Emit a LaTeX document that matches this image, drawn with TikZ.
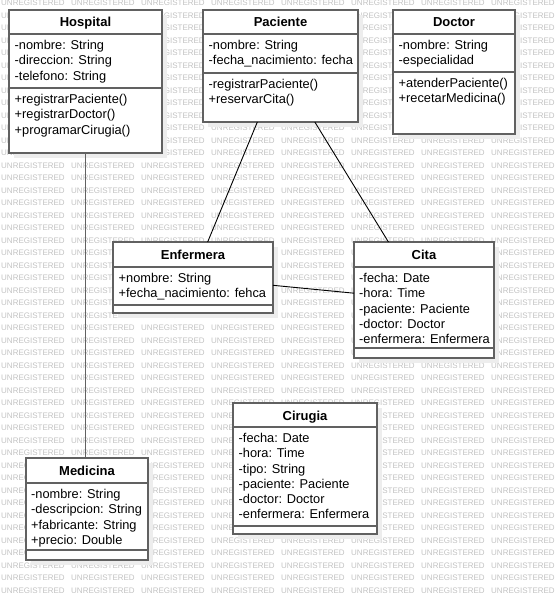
\documentclass[tikz,border=0pt]{standalone}
\usepackage{fontspec}
\setmainfont{Liberation Sans}
\usetikzlibrary{shadows}

\begin{document}
\begin{tikzpicture}[x=1pt,y=-1pt,
			watermark/.style={anchor=west,inner sep=0pt,text=black!24,font=\fontsize{8}{8}\selectfont},
			classbox/.style={draw=black!62,line width=1.4pt,fill=white,inner sep=0pt,outer sep=0pt,
				general shadow={fill=black!7,shadow xshift=5pt,shadow yshift=-5pt}},
			divider/.style={draw=black!62,line width=1.4pt},
			classtitle/.style={anchor=base,inner sep=0pt,font=\fontsize{13}{15.3}\selectfont\bfseries},
			members/.style={anchor=north west,inner sep=0pt,align=left,font=\fontsize{12.8}{15.3}\selectfont},
			assoc/.style={draw=black,line width=0.9pt},
			link/.style={draw=black!62,line width=1.4pt}]
			\useasboundingbox (0,0) rectangle (555,601);
			% background
			\begin{scope}
				\clip (0,0) rectangle (555,601);
				\foreach \r in {0,...,47}
				\foreach \c in {0,...,7}
				\node[watermark] (wm-\c-\r) at (1+70*\c,3+12.5*\r) {UNREGISTERED};
			\end{scope}
			% Hospital
			\node[classbox,minimum width=153pt,minimum height=143pt] (hospital) at (85.5,81.5) {};
			\draw[divider] ([yshift=-24pt]hospital.north west) -- ([yshift=-24pt]hospital.north east);
			\draw[divider] ([yshift=-78pt]hospital.north west) -- ([yshift=-78pt]hospital.north east);
			\node[classtitle] (hospital-title) at ([yshift=-17pt]hospital.north) {Hospital};
			\node[members] (hospital-attr) at ([shift={(5.5pt,-30pt)}]hospital.north west)
				{-nombre: String\\-direccion: String\\-telefono: String};
			\node[members] (hospital-ops) at ([shift={(5.5pt,-84pt)}]hospital.north west)
				{+registrarPaciente()\\+registrarDoctor()\\+programarCirugia()};
			% Paciente
			\node[classbox,minimum width=155pt,minimum height=112pt] (paciente) at (280.5,66) {};
			\draw[divider] ([yshift=-24pt]paciente.north west) -- ([yshift=-24pt]paciente.north east);
			\draw[divider] ([yshift=-63pt]paciente.north west) -- ([yshift=-63pt]paciente.north east);
			\node[classtitle] (paciente-title) at ([yshift=-17pt]paciente.north) {Paciente};
			\node[members] (paciente-attr) at ([shift={(5.5pt,-30pt)}]paciente.north west)
				{-nombre: String\\-fecha\_nacimiento: fecha};
			\node[members] (paciente-ops) at ([shift={(5.5pt,-69pt)}]paciente.north west)
				{-registrarPaciente()\\+reservarCita()};
			% Doctor
			\node[classbox,minimum width=122pt,minimum height=124pt] (doctor) at (454,72) {};
			\draw[divider] ([yshift=-24pt]doctor.north west) -- ([yshift=-24pt]doctor.north east);
			\draw[divider] ([yshift=-62pt]doctor.north west) -- ([yshift=-62pt]doctor.north east);
			\node[classtitle] (doctor-title) at ([yshift=-17pt]doctor.north) {Doctor};
			\node[members] (doctor-attr) at ([shift={(5.5pt,-30pt)}]doctor.north west)
				{-nombre: String\\-especialidad};
			\node[members] (doctor-ops) at ([shift={(5.5pt,-68pt)}]doctor.north west)
				{+atenderPaciente()\\+recetarMedicina()};
			% Enfermera
			\node[classbox,minimum width=160pt,minimum height=71pt] (enfermera) at (193,277.5) {};
			\draw[divider] ([yshift=-25pt]enfermera.north west) -- ([yshift=-25pt]enfermera.north east);
			\draw[divider] ([yshift=-63pt]enfermera.north west) -- ([yshift=-63pt]enfermera.north east);
			\node[classtitle] (enfermera-title) at ([yshift=-17pt]enfermera.north) {Enfermera};
			\node[members] (enfermera-attr) at ([shift={(5.5pt,-31pt)}]enfermera.north west)
				{+nombre: String\\+fecha\_nacimiento: fehca};
			% Cita
			\node[classbox,minimum width=140pt,minimum height=116pt] (cita) at (424,300) {};
			\draw[divider] ([yshift=-25pt]cita.north west) -- ([yshift=-25pt]cita.north east);
			\draw[divider] ([yshift=-106pt]cita.north west) -- ([yshift=-106pt]cita.north east);
			\node[classtitle] (cita-title) at ([yshift=-17pt]cita.north) {Cita};
			\node[members] (cita-attr) at ([shift={(5pt,-31pt)}]cita.north west)
				{-fecha: Date\\-hora: Time\\-paciente: Paciente\\-doctor: Doctor\\-enfermera: Enfermera};
			% Medicina
			\node[classbox,minimum width=122pt,minimum height=102pt] (medicina) at (87,509) {};
			\draw[divider] ([yshift=-25pt]medicina.north west) -- ([yshift=-25pt]medicina.north east);
			\draw[divider] ([yshift=-92pt]medicina.north west) -- ([yshift=-92pt]medicina.north east);
			\node[classtitle] (medicina-title) at ([yshift=-17pt]medicina.north) {Medicina};
			\node[members] (medicina-attr) at ([shift={(5pt,-31pt)}]medicina.north west)
				{-nombre: String\\-descripcion: String\\+fabricante: String\\+precio: Double};
			% Cirugia
			\node[classbox,minimum width=144pt,minimum height=131pt] (cirugia) at (305,468.5) {};
			\draw[divider] ([yshift=-24pt]cirugia.north west) -- ([yshift=-24pt]cirugia.north east);
			\draw[divider] ([yshift=-123pt]cirugia.north west) -- ([yshift=-123pt]cirugia.north east);
			\node[classtitle] (cirugia-title) at ([yshift=-17pt]cirugia.north) {Cirugia};
			\node[members] (cirugia-attr) at ([shift={(5.5pt,-30pt)}]cirugia.north west)
				{-fecha: Date\\-hora: Time\\-tipo: String\\-paciente: Paciente\\-doctor: Doctor\\-enfermera: Enfermera};
			% associations
			\draw[link] (hospital.south) -- (hospital.south |- medicina.north);
			\draw[assoc] (paciente) -- (enfermera);
			\draw[assoc] (paciente) -- (cita);
			\draw[assoc] (enfermera) -- (cita);
			\end{tikzpicture}
\end{document}
